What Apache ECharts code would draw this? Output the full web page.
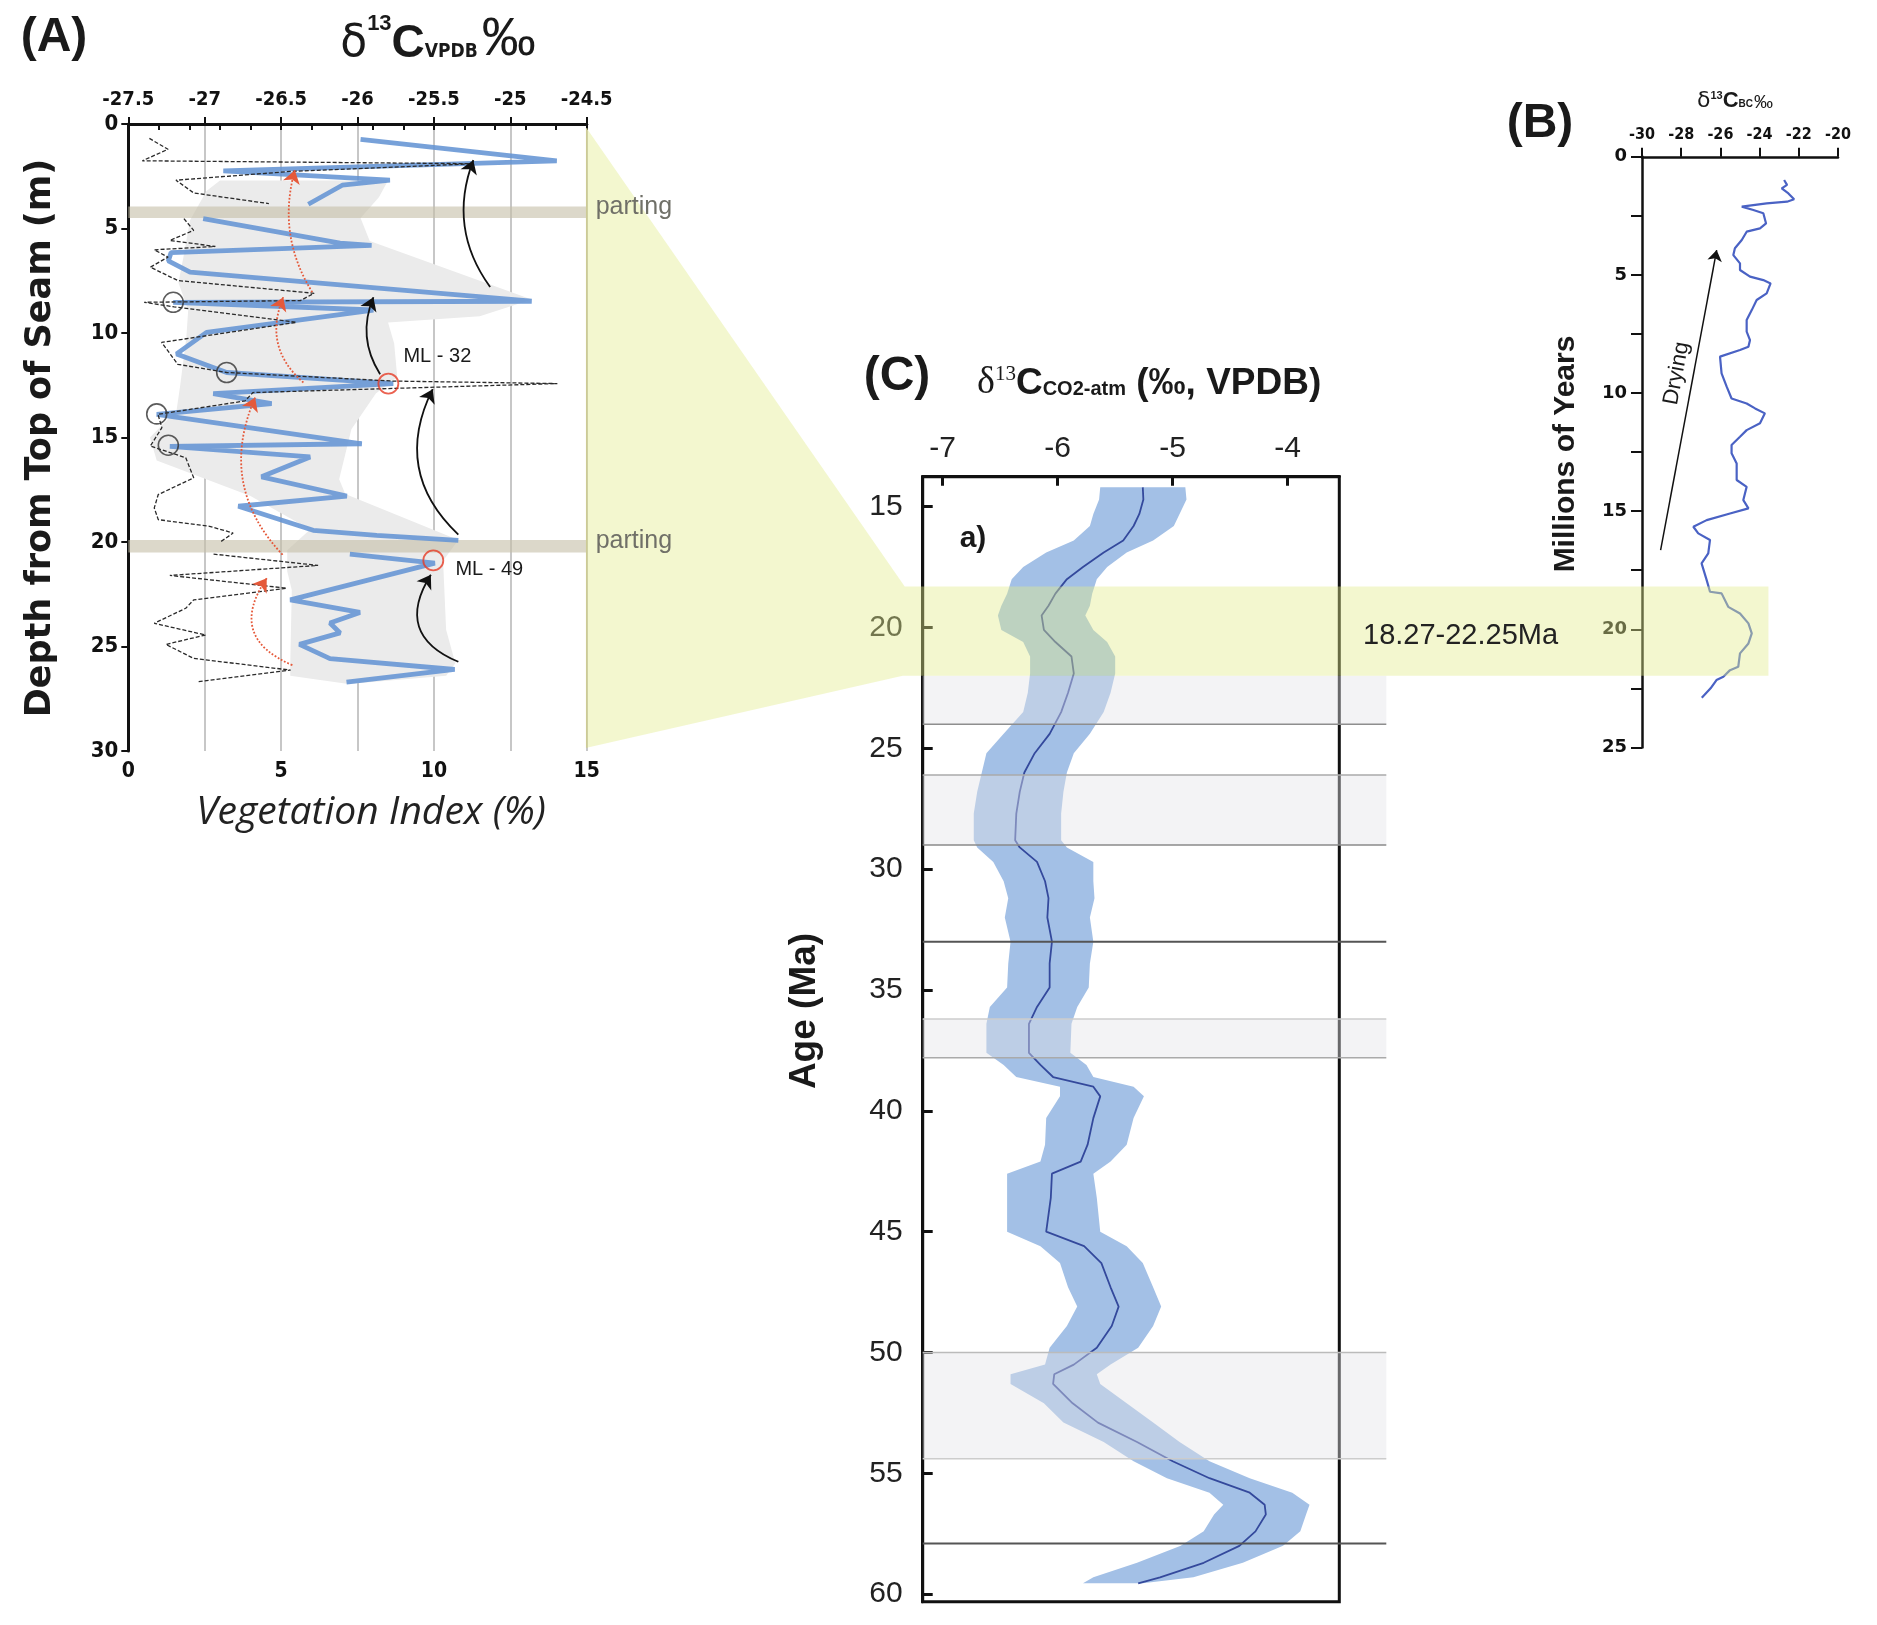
<!DOCTYPE html>
<html>
<head>
<meta charset="utf-8">
<script src="https://cdn.jsdelivr.net/npm/echarts@6.0.0/dist/echarts.min.js"></script>
<style>
html,body{margin:0;padding:0;background:#ffffff;}
#chart{width:1877px;height:1625px;}
</style>
</head>
<body>
<div id="chart"></div>
<script>
// ================= DATA =================
// ---- Panel A : vegetation index (blue) and d13C (dashed) vs depth ----
const aBlue1 = [[7.6,0.74],[14.02,1.76],[3.11,2.24],[8.56,2.69],[7.0,2.93],[5.89,3.84]];
const aBlue2 = [[2.45,4.53],[6.93,5.7],[7.96,5.81],[1.4,6.15],[1.31,6.55],[2.02,7.09],[13.2,8.48],[1.47,8.53],[8.02,8.9],[2.56,9.97],[1.58,11.0],[3.22,11.89],[8.67,12.42],[2.78,12.9],[4.69,13.38],[0.93,13.89],[7.64,15.3],[1.36,15.42],[5.95,15.93],[4.36,16.88],[7.15,17.8],[3.6,18.29],[6.05,19.44],[8.13,19.68],[10.8,19.92]];
const aBlue3 = [[7.25,20.58],[10.03,21.01],[5.3,22.77],[7.58,23.37],[6.6,23.88],[6.93,24.35],[5.6,24.9],[6.6,25.58],[10.68,26.1],[7.14,26.7]];
const aDash1 = [[0.69,0.69],[1.3,1.21],[0.46,1.76],[11.3,1.9],[5.3,2.27],[1.56,2.69],[2.14,3.3],[4.6,3.81]];
const aDash2 = [[1.82,4.53],[2.14,5.09],[1.36,5.57],[2.85,5.86],[0.85,6.02],[1.3,6.37],[0.72,6.85],[1.62,7.49],[6.08,8.1],[5.63,8.45],[0.52,8.53],[1.5,8.75],[5.5,9.49],[1.09,10.45],[1.62,11.5],[3.22,11.89],[8.67,12.3],[14.04,12.42],[4.08,12.85],[3.82,13.25],[0.97,13.89],[1.1,14.53],[0.72,15.41],[1.88,15.97],[2.14,16.93],[0.98,17.73],[0.85,18.37],[0.98,18.93],[2.66,19.25],[3.43,19.57],[3.04,19.97]];
const aDash3 = [[2.79,20.58],[6.21,21.12],[1.36,21.6],[5.18,22.21],[2.14,22.77],[1.88,23.17],[0.85,23.89],[2.53,24.45],[1.23,24.9],[2.14,25.57],[5.31,26.13],[2.27,26.69]];
const aEnvelope = [[3.0,2.7],[8.5,2.7],[8.2,3.5],[7.6,4.5],[7.9,5.6],[13.2,8.4],[11.5,9.2],[8.5,9.5],[8.7,10.5],[8.8,12.1],[8.1,12.9],[7.3,14.6],[6.9,17.0],[7.1,17.7],[10.8,19.9],[10.3,20.9],[10.4,24.2],[10.7,25.8],[10.4,26.4],[7.2,26.8],[5.3,26.4],[5.3,25.8],[5.35,22.3],[5.2,21.4],[5.2,20.4],[5.95,19.4],[4.0,17.8],[0.93,16.1],[0.71,15.0],[1.58,13.7],[1.69,12.6],[1.9,10.2],[1.96,8.9],[1.64,7.6],[1.8,6.4],[2.02,4.6],[2.56,3.2]];
const aPartings = [[3.95,4.5],[19.9,20.5]];
const aOpenCircles = [[1.47,8.53],[3.22,11.89],[0.93,13.87],[1.31,15.37]];
const aRedCircles = [[8.51,12.42],[9.98,20.88]];
const aRedCircleNames = ['ML - 32','ML - 49'];
// arrows: [xFrom, depthFrom, xTo, depthTo, curveness]
const aBlackArrows = [[11.84,7.8,11.29,1.73,0.27],[8.24,11.97,8.02,8.29,0.26],[10.8,19.65,9.96,12.69,0.37],[10.8,25.73,9.9,21.57,0.59]];
const aRedArrows = [[6.02,8.05,5.45,2.21,0.22],[5.73,12.37,5.07,8.29,0.36],[5.05,20.61,4.15,13.09,0.33],[5.37,25.89,4.53,21.73,0.61]];

// ---- Panel B : d13C of black carbon vs age ----
const bAge = [0.98,1.19,1.34,1.55,1.8,1.9,1.97,2.11,2.25,2.39,2.82,3.03,3.17,3.52,3.87,4.16,4.51,4.79,5.07,5.22,5.36,5.78,6.06,6.49,6.91,7.4,7.76,8.04,8.18,8.46,9.17,9.73,10.23,10.44,10.65,10.86,11.28,11.57,11.85,12.2,12.55,12.98,13.68,13.97,14.53,14.88,15.1,15.38,15.66,15.94,16.22,16.79,17.21,17.92,18.41,18.48,19.05,19.33,19.75,20.17,20.6,21.02,21.59,21.73,22.01,22.15,22.5,22.9];
const bVal = [-22.75,-22.6,-22.87,-22.53,-22.24,-22.6,-23.64,-24.91,-24.32,-23.81,-23.67,-23.98,-24.66,-24.91,-25.26,-25.34,-25.0,-25.0,-24.49,-23.81,-23.44,-23.64,-24.15,-24.4,-24.66,-24.66,-24.49,-24.57,-25.0,-26.02,-25.94,-25.68,-25.43,-24.66,-24.23,-23.73,-23.98,-24.66,-25.0,-25.43,-25.43,-25.17,-25.17,-24.66,-24.83,-24.57,-25.51,-26.7,-27.38,-27.13,-26.53,-26.62,-26.96,-26.7,-26.53,-25.94,-25.6,-25.0,-24.57,-24.4,-24.57,-25.0,-25.09,-25.51,-25.85,-26.2,-26.5,-26.95];
const bDryingArrow = [[-29.05,16.65],[-26.19,3.95]];
const bDryingLabelAt = [-28.23,9.17];

// ---- Panel C : d13C of atmospheric CO2 vs age ----
const cAge = [14.2,14.7,15.3,15.8,16.4,16.9,17.5,18.0,18.6,19.1,19.5,20.1,20.6,21.2,21.9,22.7,23.5,24.4,25.2,26.0,26.8,27.7,28.8,29.1,29.7,30.5,31.2,32.0,33.0,33.9,34.9,35.7,36.4,37.6,38.1,38.6,39.0,39.4,40.3,41.4,42.1,42.6,43.6,45.0,45.6,46.3,47.3,48.1,48.9,49.8,50.5,50.9,51.3,52.1,52.9,53.7,54.5,55.2,55.8,56.3,56.7,57.4,58.0,58.7,59.3,59.55];
const cMid = [-5.26,-5.255,-5.29,-5.34,-5.43,-5.6,-5.78,-5.92,-6.02,-6.08,-6.14,-6.12,-6.02,-5.88,-5.86,-5.91,-5.97,-6.07,-6.2,-6.29,-6.33,-6.36,-6.37,-6.33,-6.18,-6.11,-6.08,-6.09,-6.05,-6.07,-6.07,-6.18,-6.25,-6.25,-6.15,-6.04,-5.69,-5.63,-5.69,-5.74,-5.8,-6.05,-6.06,-6.1,-5.77,-5.62,-5.54,-5.47,-5.53,-5.66,-5.86,-6.03,-6.04,-5.87,-5.65,-5.31,-5.0,-4.68,-4.33,-4.2,-4.19,-4.28,-4.42,-4.73,-5.11,-5.3];
const cLow = [-5.63,-5.64,-5.69,-5.72,-5.86,-6.1,-6.3,-6.4,-6.44,-6.49,-6.52,-6.49,-6.3,-6.24,-6.24,-6.26,-6.3,-6.47,-6.62,-6.66,-6.7,-6.73,-6.73,-6.7,-6.56,-6.47,-6.43,-6.46,-6.41,-6.43,-6.44,-6.59,-6.62,-6.62,-6.47,-6.36,-5.98,-5.98,-6.1,-6.11,-6.15,-6.44,-6.44,-6.44,-6.15,-5.98,-5.91,-5.83,-5.92,-6.07,-6.11,-6.41,-6.41,-6.12,-5.95,-5.6,-5.34,-5.05,-4.68,-4.56,-4.64,-4.73,-4.93,-5.31,-5.69,-5.78];
const cHigh = [-4.89,-4.88,-4.94,-4.99,-5.17,-5.4,-5.57,-5.66,-5.7,-5.72,-5.76,-5.69,-5.57,-5.5,-5.5,-5.54,-5.6,-5.72,-5.86,-5.92,-5.95,-5.97,-5.97,-5.92,-5.69,-5.69,-5.68,-5.72,-5.69,-5.72,-5.73,-5.83,-5.88,-5.89,-5.75,-5.69,-5.34,-5.25,-5.34,-5.4,-5.54,-5.69,-5.66,-5.63,-5.4,-5.26,-5.17,-5.1,-5.17,-5.3,-5.54,-5.66,-5.63,-5.4,-5.17,-4.94,-4.68,-4.33,-3.96,-3.81,-3.84,-3.89,-4.04,-4.39,-4.82,-5.26];
const cHighlight = [18.3, 22.0];           // highlighted interval (labelled 18.27-22.25Ma)
const cHighlightLabel = '18.27-22.25Ma';
const cGrayBands = [[22.0,24.0],[26.1,29.0],[36.2,37.8],[50.0,54.4]];
const cBoundaries = [33.0, 57.9];
const cXTicks = [-7,-6,-5,-4];
const cYTicks = [15,20,25,30,35,40,45,50,55,60];
const bBandEndX = -23.55;

// ================= CHART =================
const chart = echarts.init(document.getElementById('chart'), null, {renderer:'canvas'});
const COND = "'DejaVu Sans Condensed','Liberation Sans Narrow','Liberation Sans',sans-serif";
const SANS = "'Liberation Sans',Arial,sans-serif";

function polySeriesA(){
  return {
    type:'custom', xAxisIndex:0, yAxisIndex:0, silent:true, z:1,
    data: aEnvelope, encode:{x:0,y:1},
    renderItem:(params, api) => params.dataIndex === 0 ? {
      type:'polygon', shape:{points: aEnvelope.map(p => api.coord(p))},
      style:{fill:'#ebebeb'}
    } : null
  };
}
function polySeriesC(){
  const data = cAge.map((a,i) => [cLow[i], a, cHigh[i]]);
  return {
    type:'custom', xAxisIndex:3, yAxisIndex:2, silent:true, z:2,
    data, encode:{x:[0,2], y:1},
    renderItem:(params, api) => {
      if (params.dataIndex !== 0) return null;
      const left = cAge.map((a,i) => api.coord([cLow[i], a]));
      const right = cAge.map((a,i) => api.coord([cHigh[i], a])).reverse();
      return {type:'polygon', shape:{points: left.concat(right)}, style:{fill:'#a3c0e6'}};
    }
  };
}
const blueStyle = {color:'rgba(100,148,212,0.88)', width:4.8};
const dashStyle = {color:'#2a2a2a', width:1.3, type:[4,2]};

const series = [];
series.push(polySeriesA());                                        // 0
[aBlue1,aBlue2,aBlue3].forEach(seg => series.push({
  type:'line', xAxisIndex:0, yAxisIndex:0, data:seg, symbol:'none', z:4,
  lineStyle:blueStyle, silent:true, animation:false
}));                                                               // 1-3
[aDash1,aDash2,aDash3].forEach((seg,k) => {
  const s = {type:'line', xAxisIndex:0, yAxisIndex:0, data:seg, symbol:'none', z:5,
    lineStyle:dashStyle, silent:true, animation:false};
  if (k === 0) s.markArea = {silent:true, z:3, itemStyle:{color:'rgba(196,190,166,0.6)'},
    data: aPartings.map(p => [{yAxis:p[0]},{yAxis:p[1]}])};
  series.push(s);
});                                                                // 4-6
series.push({type:'scatter', xAxisIndex:0, yAxisIndex:0, data:aOpenCircles, symbol:'circle', symbolSize:20, z:6,
  itemStyle:{color:'rgba(0,0,0,0)', borderColor:'#333', borderWidth:1.6}, silent:true}); // 7
series.push({type:'scatter', xAxisIndex:0, yAxisIndex:0, data:aRedCircles, symbol:'circle', symbolSize:20, z:6,
  itemStyle:{color:'rgba(0,0,0,0)', borderColor:'#e63b25', borderWidth:1.8}, silent:true}); // 8
series.push({type:'lines', coordinateSystem:'cartesian2d', xAxisIndex:0, yAxisIndex:0, z:7, silent:true,
  symbol:['none','arrow'], symbolSize:13,
  lineStyle:{color:'#111', width:1.8, opacity:1},
  data: aBlackArrows.map(a => ({coords:[[a[0],a[1]],[a[2],a[3]]], lineStyle:{curveness:a[4]}}))}); // 9
series.push({type:'lines', coordinateSystem:'cartesian2d', xAxisIndex:0, yAxisIndex:0, z:7, silent:true,
  symbol:['none','arrow'], symbolSize:13,
  lineStyle:{color:'#e5593a', width:1.8, type:'dotted', opacity:1},
  data: aRedArrows.map(a => ({coords:[[a[0],a[1]],[a[2],a[3]]], lineStyle:{curveness:a[4]}}))}); // 10
series.push({type:'line', xAxisIndex:2, yAxisIndex:1, data: bAge.map((a,i)=>[bVal[i],a]), symbol:'none', z:4,
  lineStyle:{color:'#4a62c4', width:2.2}, silent:true});           // 11
series.push({type:'lines', coordinateSystem:'cartesian2d', xAxisIndex:2, yAxisIndex:1, z:5, silent:true,
  symbol:['none','arrow'], symbolSize:11, lineStyle:{color:'#111', width:1.5, opacity:1},
  data:[{coords:bDryingArrow}]});                                  // 12
series.push(polySeriesC());                                        // 13
series.push({type:'line', xAxisIndex:3, yAxisIndex:2, data: cAge.map((a,i)=>[cMid[i],a]), symbol:'none', z:4,
  lineStyle:{color:'#34499c', width:1.8}, silent:true});           // 14

const axisLineBlack = w => ({show:true, lineStyle:{color:'#111', width:w}});
const option = {
  animation:false,
  backgroundColor:'#ffffff',
  grid:[
    {left:128.3, top:124, width:458.4, height:627, outerBoundsMode:'none'},
    {left:1642, top:156.8, width:196, height:590.6, outerBoundsMode:'none'},
    {left:922.7, top:476.7, width:416.6, height:1125, outerBoundsMode:'none', show:true, borderColor:'#111', borderWidth:3, backgroundColor:'rgba(0,0,0,0)'}
  ],
  xAxis:[
    {gridIndex:0, type:'value', position:'bottom', min:0, max:15, interval:1,
      axisLine:axisLineBlack(3), axisTick:{length:6, lineStyle:{color:'#111', width:2}},
      axisLabel:{formatter:v => (v % 5 === 0 ? String(v) : ''), color:'#111', fontSize:21, fontWeight:'bold', fontFamily:COND, margin:10},
      splitLine:{show:false}},
    {gridIndex:0, type:'value', position:'top', min:-27.5, max:-24.5, interval:0.5,
      axisLine:axisLineBlack(3), axisTick:{length:7, lineStyle:{color:'#111', width:2}},
      axisLabel:{color:'#111', fontSize:20, fontWeight:'bold', fontFamily:COND, margin:14},
      splitLine:{show:true, lineStyle:{color:'#b4b4b4', width:1.5}}},
    {gridIndex:1, type:'value', position:'top', min:-30, max:-20, interval:2,
      axisLine:axisLineBlack(2.5), axisTick:{length:9, lineStyle:{color:'#111', width:2}},
      axisLabel:{color:'#111', fontSize:16, fontWeight:'bold', fontFamily:COND, margin:14},
      splitLine:{show:false}},
    {gridIndex:2, type:'value', position:'top', min:-7.174, max:-3.551,
      axisLine:axisLineBlack(3),
      axisTick:{show:true, inside:true, length:9, customValues:cXTicks, lineStyle:{color:'#111', width:3}},
      axisLabel:{customValues:cXTicks, color:'#222', fontSize:30, fontFamily:SANS, margin:13},
      splitLine:{show:false}}
  ],
  yAxis:[
    {gridIndex:0, type:'value', inverse:true, min:0, max:30, interval:5,
      axisLine:axisLineBlack(3), axisTick:{length:7, lineStyle:{color:'#111', width:2}},
      axisLabel:{color:'#111', fontSize:22, fontWeight:'bold', fontFamily:COND, margin:10},
      splitLine:{show:false}},
    {gridIndex:1, type:'value', inverse:true, min:0, max:25, interval:2.5,
      axisLine:axisLineBlack(2.5), axisTick:{length:11, lineStyle:{color:'#111', width:2}},
      axisLabel:{formatter:v => (v % 5 === 0 ? String(v) : ''), color:'#111', fontSize:18, fontWeight:'bold', fontFamily:"'DejaVu Sans',sans-serif", margin:15},
      splitLine:{show:false}},
    {gridIndex:2, type:'value', inverse:true, min:13.76, max:60.31,
      axisLine:axisLineBlack(3),
      axisTick:{show:true, inside:true, length:10, customValues:cYTicks, lineStyle:{color:'#111', width:3}},
      axisLabel:{customValues:cYTicks, color:'#222', fontSize:30, fontFamily:SANS, margin:20},
      splitLine:{show:false}}
  ],
  series
};
chart.setOption(option);

// ================= ANNOTATIONS (positioned through the axes) =================
const A = p => chart.convertToPixel({seriesIndex:0}, p);
const B = p => chart.convertToPixel({seriesIndex:11}, p);
const C = p => chart.convertToPixel({seriesIndex:14}, p);
const cxMin = -7.174, cxMax = -3.551;
const g = [];

// yellow connector from panel A to the highlighted interval in C and B
const aTop = A([15, 0.2]), aBot = A([15, 29.85]);
const hTop = C([cxMin, cHighlight[0]]), hBot = C([cxMin, cHighlight[1]]);
const bEnd = B([bBandEndX, 0]);
g.push({type:'polygon', z:50, silent:true, shape:{points:[aTop,[hTop[0]-18,hTop[1]],[bEnd[0],hTop[1]],[bEnd[0],hBot[1]],[hBot[0]-20,hBot[1]],aBot]},
  style:{fill:'rgba(226,236,140,0.42)'}});
g.push({type:'line', z:51, silent:true, shape:{x1:aTop[0], y1:aTop[1], x2:aBot[0], y2:aBot[1]}, style:{stroke:'#cdcb95', lineWidth:1.5}});

// gray intervals in C
const bandEdge = [['#c8c8c8','#8e8e8e'],['#aaaaaa','#8a8a8a'],['#cccccc','#aaaaaa'],['#bbbbbb','#cccccc']];
cGrayBands.forEach((b,i) => {
  const t = C([cxMin, b[0]]), bo = C([cxMax, b[1]]);
  const xr = bo[0] + 47;
  g.push({type:'rect', z:40, silent:true, shape:{x:t[0], y:t[1], width:xr - t[0], height:bo[1]-t[1]}, style:{fill:'rgba(226,226,232,0.42)'}});
  if (i > 0) g.push({type:'line', z:41, silent:true, shape:{x1:t[0], y1:t[1], x2:xr, y2:t[1]}, style:{stroke:bandEdge[i][0], lineWidth:1.5}});
  g.push({type:'line', z:41, silent:true, shape:{x1:t[0], y1:bo[1], x2:xr, y2:bo[1]}, style:{stroke:bandEdge[i][1], lineWidth:1.5}});
});
cBoundaries.forEach(v => {
  const l = C([cxMin, v]), r = C([cxMax, v]);
  g.push({type:'line', z:41, silent:true, shape:{x1:l[0], y1:l[1], x2:r[0]+47, y2:l[1]}, style:{stroke:'#555555', lineWidth:2}});
});

// texts
const T = (x, y, text, font, opt) => Object.assign({type:'text', x, y, z:60, silent:true,
  style:Object.assign({text, font, fill:'#1a1a1a', align:'center', verticalAlign:'middle'}, (opt && opt.style) || {})}, (opt && opt.el) || {});

g.push(T(54, 38, '(A)', "bold 48px " + SANS));
g.push({type:'text', x:438, y:40, z:60, silent:true, style:{
  text:'{d|δ}{s|13}{c|C}{v|VPDB}{p|‰}', align:'center', verticalAlign:'middle',
  rich:{
    d:{fontSize:44, fontFamily:"'DejaVu Sans',sans-serif", fill:'#1a1a1a', verticalAlign:'bottom'},
    s:{fontSize:22, fontWeight:'bold', fontFamily:SANS, fill:'#1a1a1a', verticalAlign:'top'},
    c:{fontSize:46, fontWeight:'bold', fontFamily:SANS, fill:'#1a1a1a', verticalAlign:'bottom'},
    v:{fontSize:19, fontWeight:'bold', fontFamily:COND, fill:'#1a1a1a', verticalAlign:'bottom', padding:[0,4,5,0]},
    p:{fontSize:54, fontFamily:SANS, fill:'#1a1a1a', verticalAlign:'bottom'}
  }}});
aPartings.forEach(p => {
  const pt = A([15, p[0] + 0.05]);
  g.push(T(pt[0] + 9, pt[1], 'parting', "25px " + SANS, {style:{align:'left', fill:'#707068'}}));
});
const mlOffsets = [[49,-27],[56,9]];
aRedCircles.forEach((c,i) => {
  const pt = A(c);
  g.push(T(pt[0] + mlOffsets[i][0], pt[1] + mlOffsets[i][1], aRedCircleNames[i], "20px " + SANS));
});
g.push(T(41, 438, 'Depth from Top of Seam (m)', "bold 35px 'DejaVu Sans',sans-serif", {el:{rotation:Math.PI/2}}));
g.push(T(371, 813, 'Vegetation Index (%)', "italic 39px 'Open Sans',sans-serif", {style:{fill:'#222'}}));

g.push(T(1540, 124, '(B)', "bold 48px " + SANS));
g.push({type:'text', x:1735, y:101, z:60, silent:true, style:{
  text:'{d|δ}{s|13}{c|C}{v|BC}{p|‰}', align:'center', verticalAlign:'middle',
  rich:{
    d:{fontSize:22, fontFamily:"'DejaVu Sans',sans-serif", fill:'#1a1a1a', verticalAlign:'bottom'},
    s:{fontSize:11, fontWeight:'bold', fontFamily:SANS, fill:'#1a1a1a', verticalAlign:'top'},
    c:{fontSize:22, fontWeight:'bold', fontFamily:SANS, fill:'#1a1a1a', verticalAlign:'bottom'},
    v:{fontSize:10, fontWeight:'bold', fontFamily:SANS, fill:'#1a1a1a', verticalAlign:'bottom', padding:[0,1,3,0]},
    p:{fontSize:19, fontFamily:SANS, fill:'#1a1a1a', verticalAlign:'bottom'}
  }}});
g.push(T(1566, 454, 'Millions of Years', "bold 30px " + SANS, {el:{rotation:Math.PI/2}}));
const dl = B(bDryingLabelAt);
g.push(T(dl[0], dl[1], 'Drying', "22px " + SANS, {el:{rotation:1.386}}));

g.push(T(897, 377, '(C)', "bold 48px " + SANS));
g.push({type:'text', x:977, y:383, z:60, silent:true, style:{
  text:'{d|δ}{s|13}{c|C}{v|CO2-atm}{r| (‰, VPDB)}', align:'left', verticalAlign:'middle',
  rich:{
    d:{fontSize:38, fontFamily:"'Liberation Serif',serif", fill:'#1a1a1a', verticalAlign:'bottom'},
    s:{fontSize:21, fontFamily:"'Liberation Serif',serif", fill:'#1a1a1a', verticalAlign:'top'},
    c:{fontSize:37, fontWeight:'bold', fontFamily:SANS, fill:'#1a1a1a', verticalAlign:'bottom'},
    v:{fontSize:20, fontWeight:'bold', fontFamily:SANS, fill:'#1a1a1a', verticalAlign:'bottom', padding:[0,0,3,0]},
    r:{fontSize:37, fontWeight:'bold', fontFamily:SANS, fill:'#1a1a1a', verticalAlign:'bottom'}
  }}});
g.push(T(805, 1011, 'Age (Ma)', "bold 37px " + SANS, {el:{rotation:Math.PI/2}}));
g.push(T(973, 539, 'a)', "bold 30px " + SANS));
const lblY = (hTop[1] + hBot[1]) / 2 + 5;
g.push(T(1363, lblY, cHighlightLabel, "29px " + SANS, {style:{align:'left', fill:'#222'}}));

chart.setOption({graphic: g});
</script>
</body>
</html>
